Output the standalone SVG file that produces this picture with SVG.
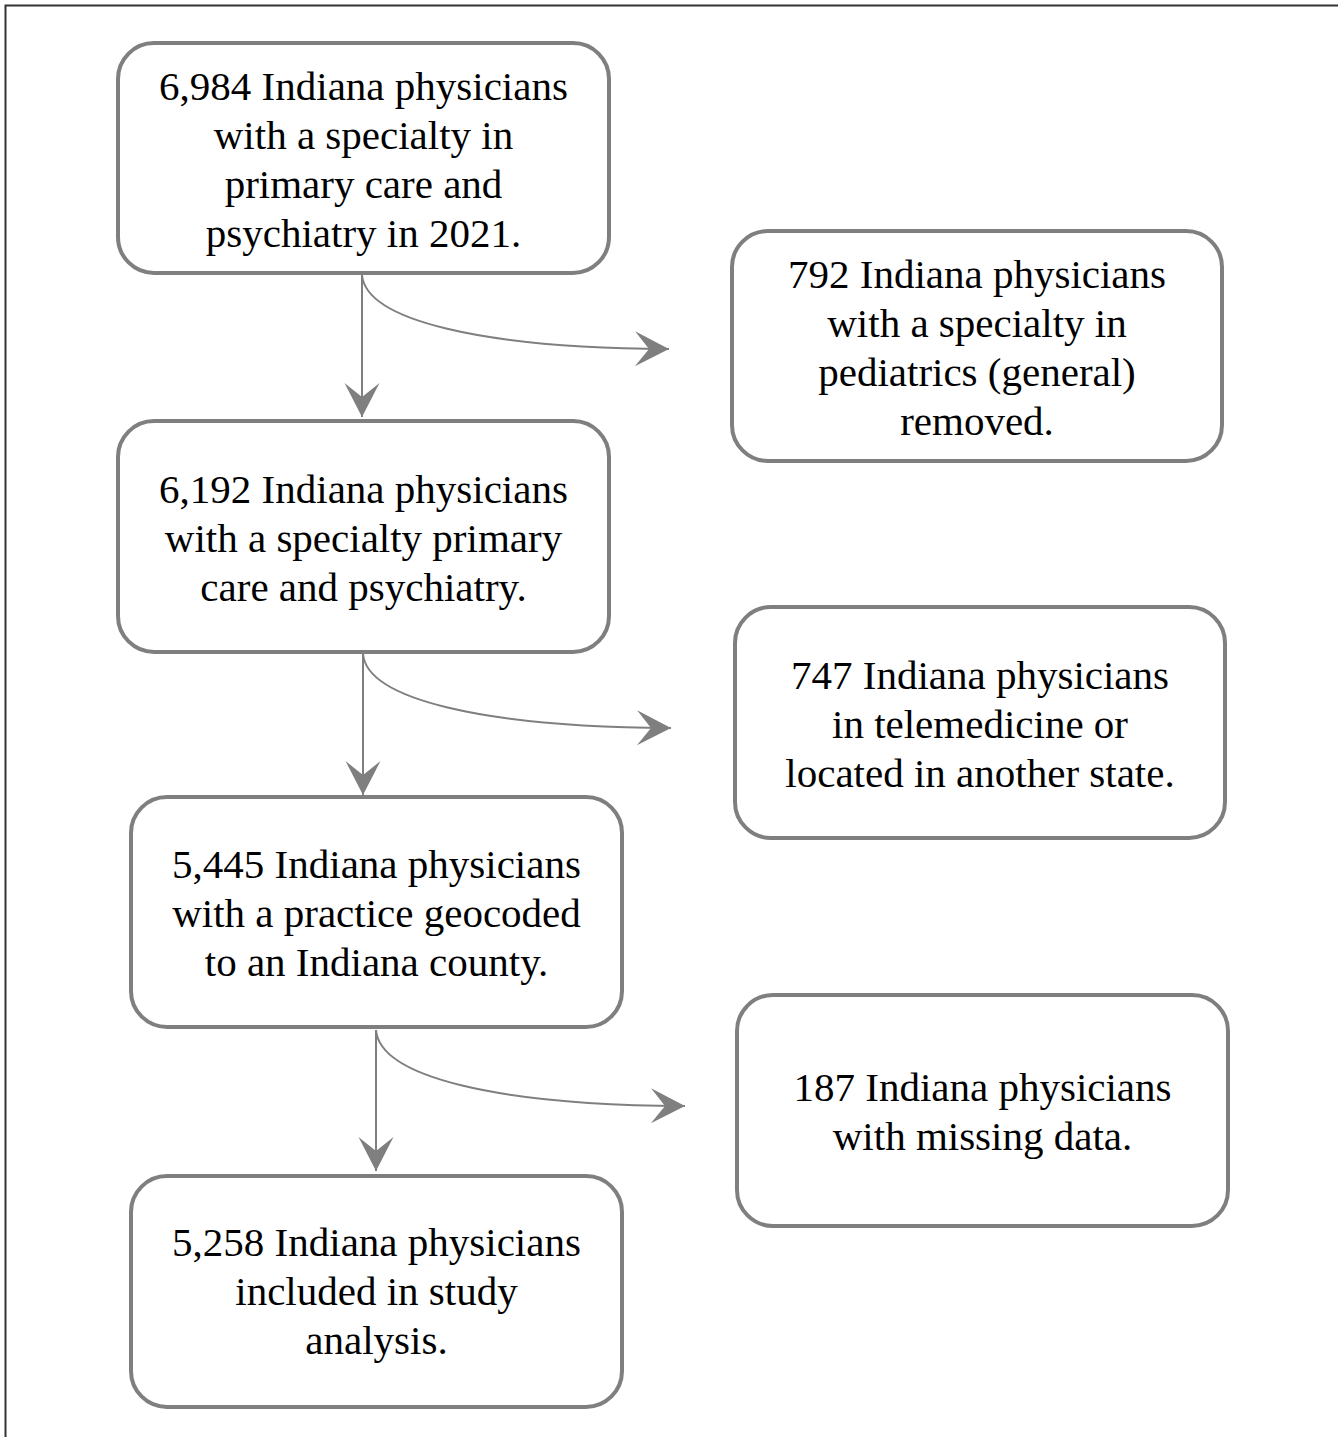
<svg xmlns="http://www.w3.org/2000/svg" width="1338" height="1437" viewBox="0 0 1338 1437">
<style>
.box{fill:#fff;stroke:#7f7f7f;stroke-width:4}
.t{font-family:"Liberation Serif","Times New Roman",serif;font-size:41px;fill:#000;text-anchor:middle}
.c{fill:none;stroke:#7f7f7f;stroke-width:2}
</style>
<defs>
<marker id="ah" markerUnits="userSpaceOnUse" viewBox="-36 -19 38 38" refX="0" refY="0" markerWidth="38" markerHeight="38" orient="auto">
<path d="M-34,-17.5 L0,0 L-34,17.5 L-20,0 Z" fill="#7f7f7f"/>
</marker>
</defs>
<rect width="1338" height="1437" fill="#fff"/>
<path d="M5.5,1437 V5.5 H1338" fill="none" stroke="#333" stroke-width="2"/>
<g id="connectors">
<path class="c" d="M362,275 V417" marker-end="url(#ah)"/>
<path class="c" d="M362,275 C366,320 480,348 669,349" marker-end="url(#ah)"/>
<path class="c" d="M363,654 V795" marker-end="url(#ah)"/>
<path class="c" d="M363,654 C367,699 482,727 671,728" marker-end="url(#ah)"/>
<path class="c" d="M376,1030 V1171" marker-end="url(#ah)"/>
<path class="c" d="M376,1030 C380,1077 496,1105 685,1106" marker-end="url(#ah)"/>
</g>
<g id="n1">
<rect class="box" x="118" y="43" width="491" height="230" rx="36"/>
<text class="t" x="363.5" y="100">6,984 Indiana physicians</text>
<text class="t" x="363.5" y="149">with a specialty in</text>
<text class="t" x="363.5" y="198">primary care and</text>
<text class="t" x="363.5" y="247">psychiatry in 2021.</text>
</g>
<g id="n2">
<rect class="box" x="732" y="231" width="490" height="230" rx="36"/>
<text class="t" x="977" y="288">792 Indiana physicians</text>
<text class="t" x="977" y="337">with a specialty in</text>
<text class="t" x="977" y="386">pediatrics (general)</text>
<text class="t" x="977" y="435">removed.</text>
</g>
<g id="n3">
<rect class="box" x="118" y="421" width="491" height="231" rx="36"/>
<text class="t" x="363.5" y="503">6,192 Indiana physicians</text>
<text class="t" x="363.5" y="552">with a specialty primary</text>
<text class="t" x="363.5" y="601">care and psychiatry.</text>
</g>
<g id="n4">
<rect class="box" x="735" y="607" width="490" height="231" rx="36"/>
<text class="t" x="980" y="689">747 Indiana physicians</text>
<text class="t" x="980" y="738">in telemedicine or</text>
<text class="t" x="980" y="787">located in another state.</text>
</g>
<g id="n5">
<rect class="box" x="131" y="797" width="491" height="230" rx="36"/>
<text class="t" x="376.5" y="878">5,445 Indiana physicians</text>
<text class="t" x="376.5" y="927">with a practice geocoded</text>
<text class="t" x="376.5" y="976">to an Indiana county.</text>
</g>
<g id="n6">
<rect class="box" x="737" y="995" width="491" height="231" rx="36"/>
<text class="t" x="982.5" y="1101">187 Indiana physicians</text>
<text class="t" x="982.5" y="1150">with missing data.</text>
</g>
<g id="n7">
<rect class="box" x="131" y="1176" width="491" height="231" rx="36"/>
<text class="t" x="376.5" y="1256">5,258 Indiana physicians</text>
<text class="t" x="376.5" y="1305">included in study</text>
<text class="t" x="376.5" y="1354">analysis.</text>
</g>
</svg>
